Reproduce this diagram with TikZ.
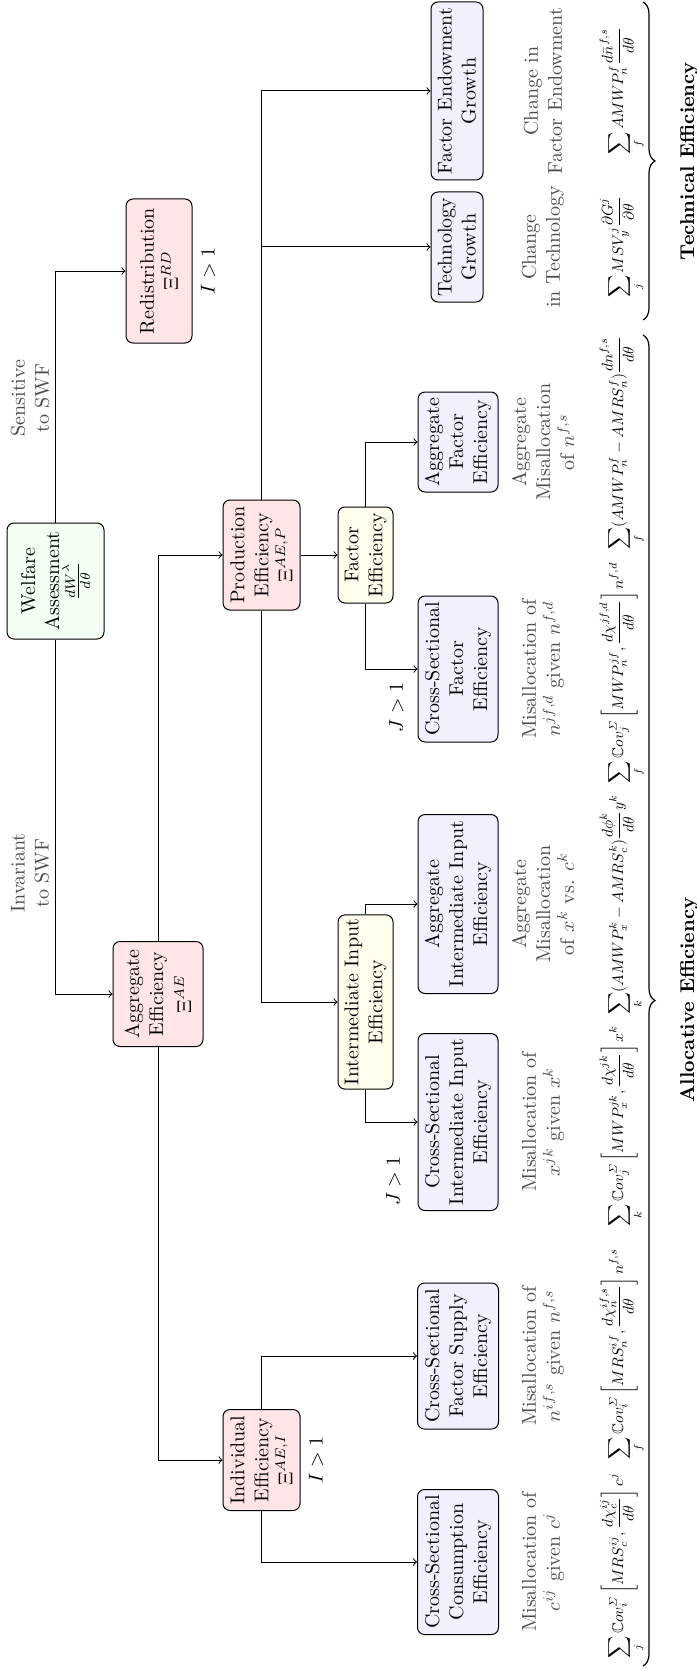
\documentclass[tikz,border=0pt]{standalone}
\usepackage{amsmath,amssymb}
\usetikzlibrary{decorations.pathreplacing}
\newcommand\myfml[1]{\scalebox{0.77}{$\displaystyle #1$}}
\begin{document}
\begin{tikzpicture}[x=0.5pt,y=-0.5pt,
  box/.style={draw, rounded corners=3.5pt, rotate=90, align=center, inner sep=2pt, line width=0.5pt},
  pinkbox/.style={box, fill=red!10},
  greenbox/.style={box, fill=green!5},
  yelbox/.style={box, fill=yellow!7},
  bluebox/.style={box, fill=blue!6},
  desc/.style={rotate=90, align=center, text=black!70, inner sep=0pt},
  formula/.style={rotate=90, anchor=base, inner sep=0pt},
  lbl/.style={rotate=90, inner sep=0pt},
  swf/.style={rotate=90, align=center, text=black!70, inner sep=0pt},
  conn/.style={->, line width=0.5pt},
  brc/.style={decorate, decoration={brace, amplitude=6pt}, line width=0.6pt}
]
\useasboundingbox (0,0) rectangle (696,1669);

% boxes
\node[greenbox, minimum width=58pt, minimum height=48.5pt] (W) at (55.5,581) {Welfare\\Assessment\\$\frac{dW^\lambda}{d\theta}$};
\node[pinkbox, minimum width=72pt, minimum height=33pt] (R) at (159,271) {Redistribution\\$\Xi^{RD}$};
\node[pinkbox, minimum width=52.5pt, minimum height=45pt] (A) at (158,994) {Aggregate\\Efficiency\\[2pt]$\Xi^{AE}$};
\node[pinkbox, minimum width=55pt, minimum height=38.5pt] (P) at (261.5,555) {Production\\Efficiency\\$\Xi^{AE,P}$};
\node[pinkbox, minimum width=50.5pt, minimum height=38.5pt] (I) at (261.5,1460) {Individual\\Efficiency\\$\Xi^{AE,I}$};
\node[yelbox, minimum width=48pt, minimum height=27.5pt] (F) at (365.5,555) {Factor\\Efficiency};
\node[yelbox, minimum width=84.5pt, minimum height=27.5pt] (II) at (365.5,1002) {Intermediate Input\\Efficiency};
\node[bluebox, minimum width=50pt, minimum height=40pt] (AF) at (458,442) {Aggregate\\Factor\\Efficiency};
\node[bluebox, minimum width=73pt, minimum height=40pt] (CF) at (458,669) {Cross-Sectional\\Factor\\Efficiency};
\node[bluebox, minimum width=89.5pt, minimum height=40pt] (AI) at (458,904) {Aggregate\\Intermediate Input\\Efficiency};
\node[bluebox, minimum width=88.5pt, minimum height=40pt] (CI) at (458,1122) {Cross-Sectional\\Intermediate Input\\Efficiency};
\node[bluebox, minimum width=73pt, minimum height=40.5pt] (CS) at (458,1356) {Cross-Sectional\\Factor Supply\\Efficiency};
\node[bluebox, minimum width=72.5pt, minimum height=40.5pt] (CC) at (458,1562) {Cross-Sectional\\Consumption\\Efficiency};
\node[bluebox, minimum width=55pt, minimum height=26pt] (TG) at (457,247) {Technology\\Growth};
\node[bluebox, minimum width=89pt, minimum height=26pt] (FE) at (457,91) {Factor Endowment\\Growth};

% connectors
\draw[conn] (W.east) |- (R.north);
\draw[conn] (W.west) |- (A.north);
\draw[conn] (A.east) |- (P.north);
\draw[conn] (A.west) |- (I.north);
\draw[conn] (P.south) -- (F.north);
\draw[conn] (P.west) |- (II.north);
\draw[conn] (P.east) |- (TG.north);
\draw[conn] (P.east) |- (FE.north);
\draw[conn] (F.east) |- (AF.north);
\draw[conn] (F.west) |- (CF.north);
\draw[conn] (II.east) |- (AI.north);
\draw[conn] (II.west) |- (CI.north);
\draw[conn] (I.east) |- (CS.north);
\draw[conn] (I.west) |- (CC.north);

% edge labels
\node[swf] (sens) at (30,398) {Sensitive\\to SWF};
\node[swf] (inv) at (30,873) {Invariant\\to SWF};
\node[lbl, anchor=north] (lR) at ([xshift=4pt]R.south) {$I>1$};
\node[lbl, anchor=north] (lI) at ([xshift=4pt]I.south) {$I>1$};
\node[lbl] (lCF) at (396.5,707.5) {$J>1$};
\node[lbl] (lCI) at (393.5,1181) {$J>1$};

% descriptions
\node[desc] (dFE) at (543,91) {Change in\\Factor Endowment};
\node[desc] (dTG) at (543,247) {Change\\in Technology};
\node[desc] (dAF) at (543,442) {Aggregate\\Misallocation\\of $n^{f,s}$};
\node[desc] (dCF) at (543,669) {Misallocation of\\$n^{jf,d}$ given $n^{f,d}$};
\node[desc] (dAI) at (543,904) {Aggregate\\Misallocation\\of $x^k$ vs. $c^k$};
\node[desc] (dCI) at (543,1122) {Misallocation of\\$x^{jk}$ given $x^k$};
\node[desc] (dCS) at (543,1356) {Misallocation of\\$n^{if,s}$ given $n^{f,s}$};
\node[desc] (dCC) at (543,1562) {Misallocation of\\$c^{ij}$ given $c^j$};

% formulas
\node[formula] (fFE) at (623,91) {\myfml{\sum_f AMWP_n^f\frac{d\bar{n}^{f,s}}{d\theta}}};
\node[formula] (fTG) at (623,247) {\myfml{\sum_j MSV_y^j\frac{\partial G^j}{\partial\theta}}};
\node[formula] (fAF) at (623,443) {\myfml{\sum_f (AMWP_n^f-AMRS_n^f)\frac{dn^{f,s}}{d\theta}}};
\node[formula] (fCF) at (623,673) {\myfml{\sum_f \mathbb{C}ov_j^{\varSigma}\left[MWP_n^{jf},\frac{d\chi^{jf,d}}{d\theta}\right]n^{f,d}}};
\node[formula] (fAI) at (623,905) {\myfml{\sum_k (AMWP_x^k-AMRS_c^k)\frac{d\phi^k}{d\theta}y^k}};
\node[formula] (fCI) at (623,1126) {\myfml{\sum_k \mathbb{C}ov_j^{\varSigma}\left[MWP_x^{jk},\frac{d\chi^{jk}}{d\theta}\right]x^k}};
\node[formula] (fCS) at (623,1354) {\myfml{\sum_f \mathbb{C}ov_i^{\varSigma}\left[MRS_n^{if},\frac{d\chi_n^{if,s}}{d\theta}\right]n^{f,s}}};
\node[formula] (fCC) at (623,1566) {\myfml{\sum_j \mathbb{C}ov_i^{\varSigma}\left[MRS_c^{ij},\frac{d\chi_c^{ij}}{d\theta}\right]c^j}};

% braces
\draw[brc] (643,335) -- (643,1666);
\draw[brc] (643,2) -- (643,320);
\node[lbl, font=\bfseries] (allo) at (689,1000) {Allocative Efficiency};
\node[lbl, font=\bfseries] (tech) at (689,161) {Technical Efficiency};
\end{tikzpicture}
\end{document}
